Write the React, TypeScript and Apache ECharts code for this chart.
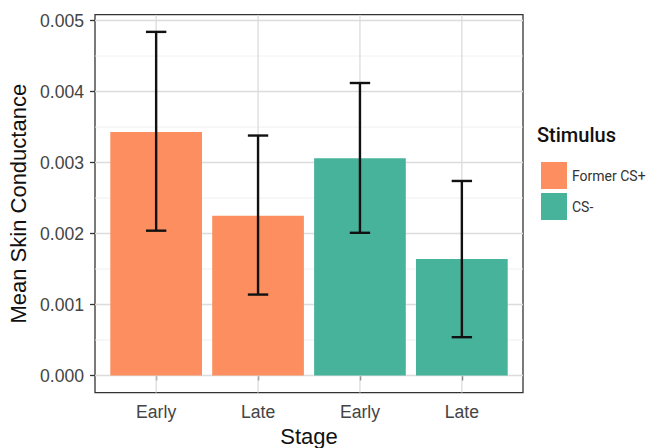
import React, { useEffect, useRef } from 'react';
import * as echarts from 'echarts';

const stages = ['Early', 'Late', 'Early', 'Late'];
const stimuli = ['Former CS+', 'Former CS+', 'CS-', 'CS-'];
const positions = [1, 2, 3, 4];
const means = [0.00343, 0.00225, 0.00306, 0.00164];
const lowerCI = [0.00204, 0.00114, 0.00201, 0.00054];
const upperCI = [0.00484, 0.00338, 0.00412, 0.00274];
const yTicks = [0, 0.001, 0.002, 0.003, 0.004, 0.005];
const yMinorTicks = [0.0005, 0.0015, 0.0025, 0.0035, 0.0045];
const groups = ['Former CS+', 'CS-'];
const groupColors = ['#FC8E5F', '#48B39B'];

const FONT = '"Liberation Sans", Arial, Helvetica, sans-serif';
const X_MIN = 0.4;
const X_MAX = 4.6;
const Y_PAD = 0.000242;

export default function App() {
  const ref = useRef<HTMLDivElement>(null);
  useEffect(() => {
    document.body.style.margin = '0';
    const chart = echarts.init(ref.current!, null, { renderer: 'svg' });

    const barSeries = groups.map((g, gi) => ({
      name: g,
      type: 'bar',
      barWidth: 91.7,
      barGap: '-100%',
      z: 2,
      itemStyle: { color: groupColors[gi] },
      data: positions
        .map((p, i) => (stimuli[i] === g ? [p, means[i]] : null))
        .filter((d) => d !== null),
    }));

    // grid lines rows: [kind(0=h major,1=h minor,2=v major), value]
    const gridRows = [
      ...yMinorTicks.map((v) => [1, v]),
      ...yTicks.map((v) => [0, v]),
      ...positions.map((v) => [2, v]),
    ];

    const option: any = {
      animation: false,
      grid: {
        left: 95,
        right: 124,
        top: 14.7,
        bottom: 55.3,
        outerBoundsMode: 'none',
        containLabel: false,
        show: true,
        borderColor: '#333333',
        borderWidth: 1.3,
        backgroundColor: '#ffffff',
        z: 0,
      },
      legend: {
        orient: 'vertical',
        left: 536,
        top: 157,
        itemWidth: 26,
        itemHeight: 27,
        itemGap: 4,
        icon: 'rect',
        data: groups,
        textStyle: { fontFamily: 'Roboto, sans-serif', fontSize: 14, color: '#333333' },
      },
      graphic: [
        {
          type: 'text',
          left: 537,
          top: 125,
          style: {
            text: 'Stimulus',
            fontFamily: 'Roboto, sans-serif',
            fontWeight: 500,
            fontSize: 20,
            fill: '#111111',
          },
        },
      ],
      xAxis: {
        type: 'value',
        min: X_MIN,
        max: X_MAX,
        interval: 0.2,
        name: 'Stage',
        nameLocation: 'middle',
        nameGap: 30,
        nameTextStyle: { fontFamily: FONT, fontSize: 22, color: '#111111' },
        axisLine: { show: false },
        splitLine: { show: false },
        axisTick: {
          show: true,
          customValues: positions,
          length: 5,
          lineStyle: { color: '#333333', width: 1.3 },
        },
        axisLabel: {
          customValues: positions,
          margin: 10,
          fontFamily: FONT,
          fontSize: 17.6,
          color: '#444444',
          formatter: (v: number) => {
            const idx = positions.indexOf(Math.round(v));
            return idx >= 0 ? stages[idx] : '';
          },
        },
      },
      yAxis: {
        type: 'value',
        min: -Y_PAD,
        max: Y_PAD * 21,
        interval: Y_PAD,
        name: 'Mean Skin Conductance',
        nameLocation: 'middle',
        nameGap: 64,
        nameTextStyle: { fontFamily: FONT, fontSize: 22, color: '#111111' },
        axisLine: { show: false },
        splitLine: { show: false },
        axisTick: {
          show: true,
          customValues: yTicks,
          length: 5,
          lineStyle: { color: '#333333', width: 1.3 },
        },
        axisLabel: {
          customValues: yTicks,
          margin: 11,
          fontFamily: FONT,
          fontSize: 17.6,
          color: '#444444',
          formatter: (v: number) => v.toFixed(3),
        },
      },
      series: [
        {
          name: 'gridlines',
          type: 'custom',
          z: 1,
          silent: true,
          clip: true,
          data: gridRows,
          encode: { x: 0, y: 1 },
          renderItem: (params: any, api: any) => {
            const kind = api.value(0);
            const v = api.value(1);
            const cs = params.coordSys;
            if (kind === 2) {
              const x = api.coord([v, 0])[0];
              return {
                type: 'line',
                shape: { x1: x, y1: cs.y, x2: x, y2: cs.y + cs.height },
                style: { stroke: '#DCDCDC', lineWidth: 1.3 },
              };
            }
            const y = api.coord([1, v])[1];
            return {
              type: 'line',
              shape: { x1: cs.x, y1: y, x2: cs.x + cs.width, y2: y },
              style: kind === 0
                ? { stroke: '#DCDCDC', lineWidth: 1.3 }
                : { stroke: '#EDEDED', lineWidth: 0.9 },
            };
          },
        },
        ...barSeries,
        {
          name: 'errors',
          type: 'custom',
          z: 3,
          silent: true,
          data: positions.map((p, i) => [p, lowerCI[i], upperCI[i]]),
          encode: { x: 0, y: [1, 2] },
          renderItem: (params: any, api: any) => {
            const x = api.value(0);
            const lo = api.value(1);
            const hi = api.value(2);
            const pLo = api.coord([x, lo]);
            const pHi = api.coord([x, hi]);
            const half = api.size([0.1, 0])[0];
            const style = { stroke: '#111111', lineWidth: 2.4 };
            return {
              type: 'group',
              children: [
                { type: 'line', shape: { x1: pLo[0], y1: pLo[1], x2: pHi[0], y2: pHi[1] }, style },
                { type: 'line', shape: { x1: pHi[0] - half, y1: pHi[1], x2: pHi[0] + half, y2: pHi[1] }, style },
                { type: 'line', shape: { x1: pLo[0] - half, y1: pLo[1], x2: pLo[0] + half, y2: pLo[1] }, style },
              ],
            };
          },
        },
      ],
    };
    chart.setOption(option);
    return () => chart.dispose();
  }, []);
  return <div ref={ref} style={{ width: 647, height: 448 }} />;
}
